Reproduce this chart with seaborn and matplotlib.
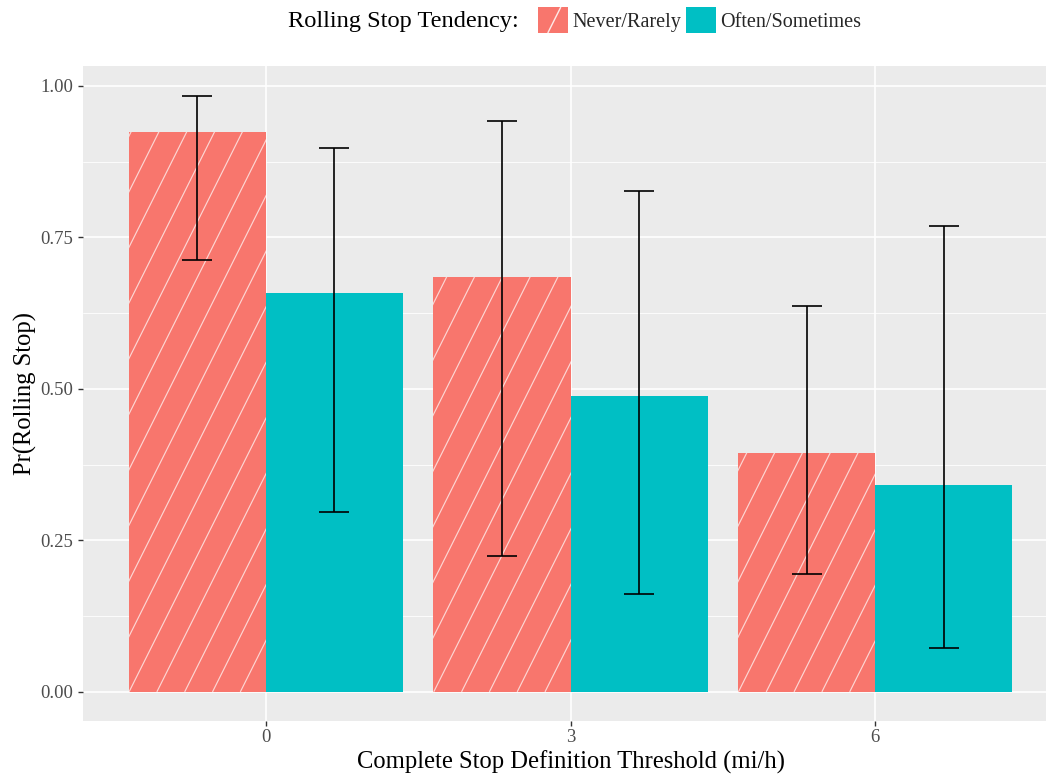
import numpy as np
import pandas as pd
import matplotlib
matplotlib.use("Agg")
import matplotlib.pyplot as plt
import seaborn as sns
from matplotlib.patches import Patch, Rectangle
from matplotlib.lines import Line2D
from matplotlib.legend_handler import HandlerBase
from matplotlib.ticker import FixedLocator

# Estimated probability of a rolling stop, with interval bounds
thresholds = ["0", "3", "6"]
tendencies = ["Never/Rarely", "Often/Sometimes"]
never_est = [0.924, 0.685, 0.394]
never_lo = [0.713, 0.224, 0.195]
never_hi = [0.983, 0.942, 0.637]
often_est = [0.658, 0.488, 0.342]
often_lo = [0.297, 0.162, 0.073]
often_hi = [0.898, 0.827, 0.769]
y_ticks = [0.00, 0.25, 0.50, 0.75, 1.00]

colors = {"Never/Rarely": "#F8766D", "Often/Sometimes": "#00BFC4"}

df = pd.DataFrame({
    "threshold": thresholds * 2,
    "tendency": [tendencies[0]] * 3 + [tendencies[1]] * 3,
    "prob": never_est + often_est,
    "lo": never_lo + often_lo,
    "hi": never_hi + often_hi,
})

sns.set_theme(style="darkgrid")
plt.rcParams["font.family"] = ["Liberation Serif", "DejaVu Serif"]

fig = plt.figure(figsize=(10.46, 7.8), dpi=100)
fig.patch.set_facecolor("white")
ax = fig.add_axes([83 / 1046, 59 / 780, 975 / 1046, 655 / 780])

sns.barplot(data=df, x="threshold", y="prob", hue="tendency",
            order=thresholds, hue_order=tendencies, palette=colors,
            width=0.9, errorbar=None, saturation=1, legend=False,
            linewidth=0, ax=ax)

ax.set_xlim(-0.6, 2.6)
ax.set_ylim(-0.048, 1.033)

# Diagonal white hatching on the first series, clipped to each bar
slope = 1.005   # data units: steep up-right strokes
step = 0.0913
for bar in ax.containers[0]:
    x0 = bar.get_x()
    run = 1.1 / slope
    for k in range(-15, 20):
        xs = x0 - run + k * step
        line, = ax.plot([xs, xs + run], [0, 1.1], color="white",
                        lw=0.85, alpha=0.7, solid_capstyle="butt",
                        zorder=bar.get_zorder() + 0.1)
        line.set_clip_path(bar)

# Interval bars
for cont, lo, hi, est in zip(ax.containers, [never_lo, often_lo], [never_hi, often_hi],
                             [never_est, often_est]):
    xs = [b.get_x() + b.get_width() / 2 for b in cont]
    est = np.array(est)
    yerr = np.vstack([est - np.array(lo), np.array(hi) - est])
    ax.errorbar(xs, est, yerr=yerr, fmt="none", ecolor="black", elinewidth=1.2,
                capsize=11, capthick=1.2, zorder=5)

ax.set_facecolor("#EBEBEB")
ax.yaxis.set_major_locator(FixedLocator(y_ticks))
ax.set_yticklabels([f"{v:.2f}" for v in y_ticks])
ax.yaxis.set_minor_locator(FixedLocator([0.125, 0.375, 0.625, 0.875]))
ax.grid(which="major", color="white", lw=1.2)
ax.grid(which="minor", axis="y", color="white", lw=0.6)
ax.set_axisbelow(True)
for s in ax.spines.values():
    s.set_visible(False)
ax.tick_params(which="major", length=3.6, width=1, color="#333333",
               labelcolor="#4D4D4D", labelsize=13.5, left=True, bottom=True)
ax.tick_params(axis="y", pad=3.6)
ax.tick_params(axis="x", pad=2.5)
ax.tick_params(which="minor", length=0)

ax.set_xlabel("Complete Stop Definition Threshold (mi/h)", fontsize=17.7, color="black", labelpad=3)
ax.set_ylabel("Pr(Rolling Stop)", fontsize=17.7, color="black", labelpad=2.5)


class HatchKey(HandlerBase):
    """Legend key: filled square with one steep white stroke."""
    def create_artists(self, legend, orig_handle, xdescent, ydescent,
                       width, height, fontsize, trans):
        rect = Rectangle((-xdescent, -ydescent), width, height,
                         facecolor=orig_handle.get_facecolor(), edgecolor="none",
                         transform=trans)
        arts = [rect]
        if orig_handle.get_hatch():
            ln = Line2D([-xdescent + 0.33 * width, -xdescent + 0.75 * width],
                        [-ydescent, -ydescent + height], color="white",
                        lw=1.0, alpha=0.85, transform=trans)
            arts.append(ln)
        return arts


# Legend across the top
fig.text(288 / 1046, 1 - 21 / 780, "Rolling Stop Tendency:", fontsize=17.6,
         ha="left", va="center", color="black")
handles = [Patch(facecolor=colors[tendencies[0]], hatch="/"),
           Patch(facecolor=colors[tendencies[1]])]
fig.legend(handles, tendencies, loc="center left", bbox_to_anchor=(538 / 1046, 1 - 20 / 780),
           ncol=2, frameon=False, fontsize=14.5, handlelength=1.5, handleheight=1.55,
           handletextpad=0.2, columnspacing=0.25, borderpad=0, borderaxespad=0,
           handler_map={Patch: HatchKey()})

fig.savefig("out.png", dpi=100, facecolor="white")
